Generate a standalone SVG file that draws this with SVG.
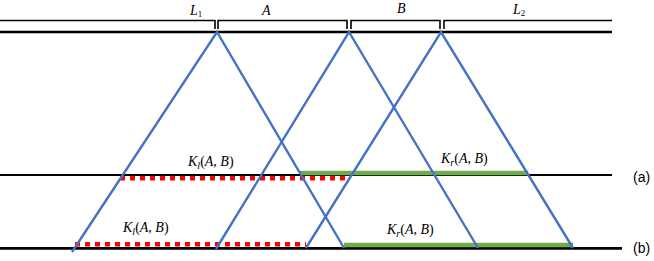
<svg xmlns="http://www.w3.org/2000/svg" width="654" height="261" viewBox="0 0 654 261">
<style>
.blk{stroke:#000;fill:none;stroke-linecap:butt}
.leg{stroke:#4472C4;stroke-width:2.4;fill:none}
.red{stroke:#FF0000;stroke-width:4.5;stroke-dasharray:5 5;fill:none}
.grn{stroke:#70AD47;stroke-width:4.5;fill:none}
.m{font-family:"Liberation Serif","DejaVu Serif",serif;font-size:14px;fill:#000}
.i{font-style:italic}
.lab{font-family:"Liberation Sans","DejaVu Sans",sans-serif;font-size:14px;fill:#000}
</style>
<rect width="654" height="261" fill="#fff"/>
<g id="top-line">
<path class="blk" stroke-width="1.6" d="M0 20.5H215V29M218 29V20.5H347V29M351 29V20.5H440V29M444 29V20.5H612"/>
<line class="blk" stroke-width="2.6" x1="0" y1="32" x2="612" y2="32"/>
<text class="m" x="190" y="15"><tspan class="i">L</tspan><tspan font-size="9" dy="2">1</tspan></text>
<text class="m i" x="262" y="15">A</text>
<text class="m i" x="397" y="13">B</text>
<text class="m" x="513" y="14"><tspan class="i">L</tspan><tspan font-size="9" dy="2">2</tspan></text>
</g>
<g id="line-a">
<line class="blk" stroke-width="2.2" x1="0" y1="175" x2="612" y2="175"/>
<text class="lab" x="633" y="182">(a)</text>
</g>
<g id="line-b">
<line class="blk" stroke-width="2.8" x1="0" y1="248.3" x2="622" y2="248.3"/>
<text class="lab" x="633" y="253">(b)</text>
</g>
<g id="segments">
<line class="red" x1="120" y1="178.3" x2="347" y2="178.3"/>
<line class="grn" x1="300" y1="173" x2="528" y2="173"/>
<line class="red" x1="75" y1="244.3" x2="306" y2="244.3"/>
<line class="grn" x1="344" y1="245" x2="573" y2="245"/>
</g>
<g id="connectors">
<path class="leg" d="M72 252L217 32L344 248"/>
<path class="leg" d="M216 249L349 32L478 248"/>
<path class="leg" d="M306 248L441 32L573 248"/>
</g>
<g id="labels">
<text class="m" x="188" y="166"><tspan class="i">K</tspan><tspan class="i" font-size="10" dy="3">l</tspan><tspan dy="-3">(</tspan><tspan class="i">A</tspan>, <tspan class="i">B</tspan>)</text>
<text class="m" x="441" y="163"><tspan class="i">K</tspan><tspan class="i" font-size="10" dy="3">r</tspan><tspan dy="-3">(</tspan><tspan class="i">A</tspan>, <tspan class="i">B</tspan>)</text>
<text class="m" x="123" y="232"><tspan class="i">K</tspan><tspan class="i" font-size="10" dy="3">l</tspan><tspan dy="-3">(</tspan><tspan class="i">A</tspan>, <tspan class="i">B</tspan>)</text>
<text class="m" x="387" y="234"><tspan class="i">K</tspan><tspan class="i" font-size="10" dy="3">r</tspan><tspan dy="-3">(</tspan><tspan class="i">A</tspan>, <tspan class="i">B</tspan>)</text>
</g>
</svg>
